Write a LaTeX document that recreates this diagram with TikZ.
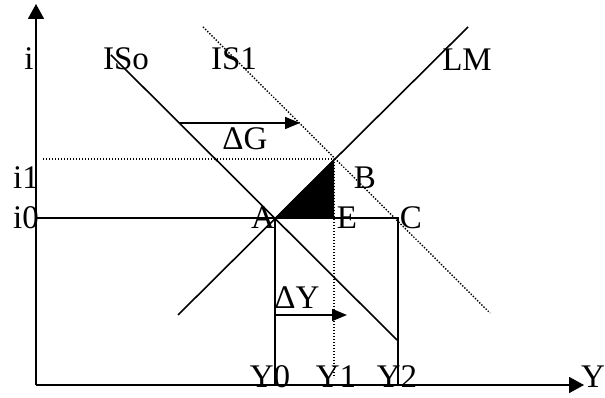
\documentclass[tikz,border=0pt]{standalone}
\usepackage{fontspec}
\setmainfont{Liberation Serif}
\usetikzlibrary{arrows.meta}

\begin{document}
\begin{tikzpicture}[x=1pt, y=1pt,
   ln/.style={line width=1.6pt},
   dots/.style={line width=1.4pt, dash pattern=on 1.4pt off 1.6pt},
   axis/.style={line width=1.8pt, -{Triangle[length=15pt, width=16pt]}},
   arr/.style={line width=1.7pt, -{Triangle[length=15pt, width=12pt]}},
   lbl/.style={inner sep=0pt, font=\fontsize{33}{36}\selectfont}]
  \useasboundingbox (-36,-13) rectangle (569,385);

  \coordinate (O) at (0,0);
  \coordinate (ytop) at (0,381);
  \coordinate (xend) at (548,0);
  \coordinate (A) at (239,167);
  \coordinate (B) at (298,226);
  \coordinate (E) at (298,167);
  \coordinate (C) at (362,167);
  \coordinate (i0) at (0,167);
  \coordinate (i1) at (7,226);
  \coordinate (y0) at (239,0);
  \coordinate (y1) at (298,7);
  \coordinate (y2) at (362,0);
  \coordinate (lm0) at (142,70);
  \coordinate (lm1) at (432,358);
  \coordinate (is0a) at (75,330);
  \coordinate (is0b) at (361,45);
  \coordinate (is1a) at (167,358);
  \coordinate (is1b) at (454,72);
  \coordinate (dga) at (143,262);
  \coordinate (dgb) at (264,262);
  \coordinate (dya) at (239,70);
  \coordinate (dyb) at (311,70);

  \fill (A) -- (B) -- (E) -- cycle;

  \draw[axis] (O) -- (ytop);
  \draw[axis] (O) -- (xend);

  \draw[ln] (lm0) -- (lm1);
  \draw[ln] (is0a) -- (is0b);
  \draw[dots] (is1a) -- (is1b);

  \draw[ln] (i0) -- (C) -- (y2);
  \draw[ln] (A) -- (y0);
  \draw[dots] (i1) -- (B) -- (y1);

  \draw[arr] (dga) -- (dgb);
  \draw[arr] (dya) -- (dyb);

  \node[lbl] (li) at (-7,326) {i};
  \node[lbl] (lis0) at (90,326) {ISo};
  \node[lbl] (lis1) at (198,326) {IS1};
  \node[lbl] (llm) at (431,325) {LM};
  \node[lbl] (ldg) at (209,246) {ΔG};
  \node[lbl] (li1) at (-10,207) {i1};
  \node[lbl] (li0) at (-10,167) {i0};
  \node[lbl] (lb) at (329,207) {B};
  \node[lbl] (la) at (227,167) {A};
  \node[lbl] (le) at (311,167) {E};
  \node[lbl] (lc) at (375,167) {C};
  \node[lbl] (ldy) at (261,87) {ΔY};
  \node[lbl] (ly0) at (234,8) {Y0};
  \node[lbl] (ly1) at (300,8) {Y1};
  \node[lbl] (ly2) at (361,8) {Y2};
  \node[lbl] (ly) at (557,8) {Y};
\end{tikzpicture}
\end{document}
